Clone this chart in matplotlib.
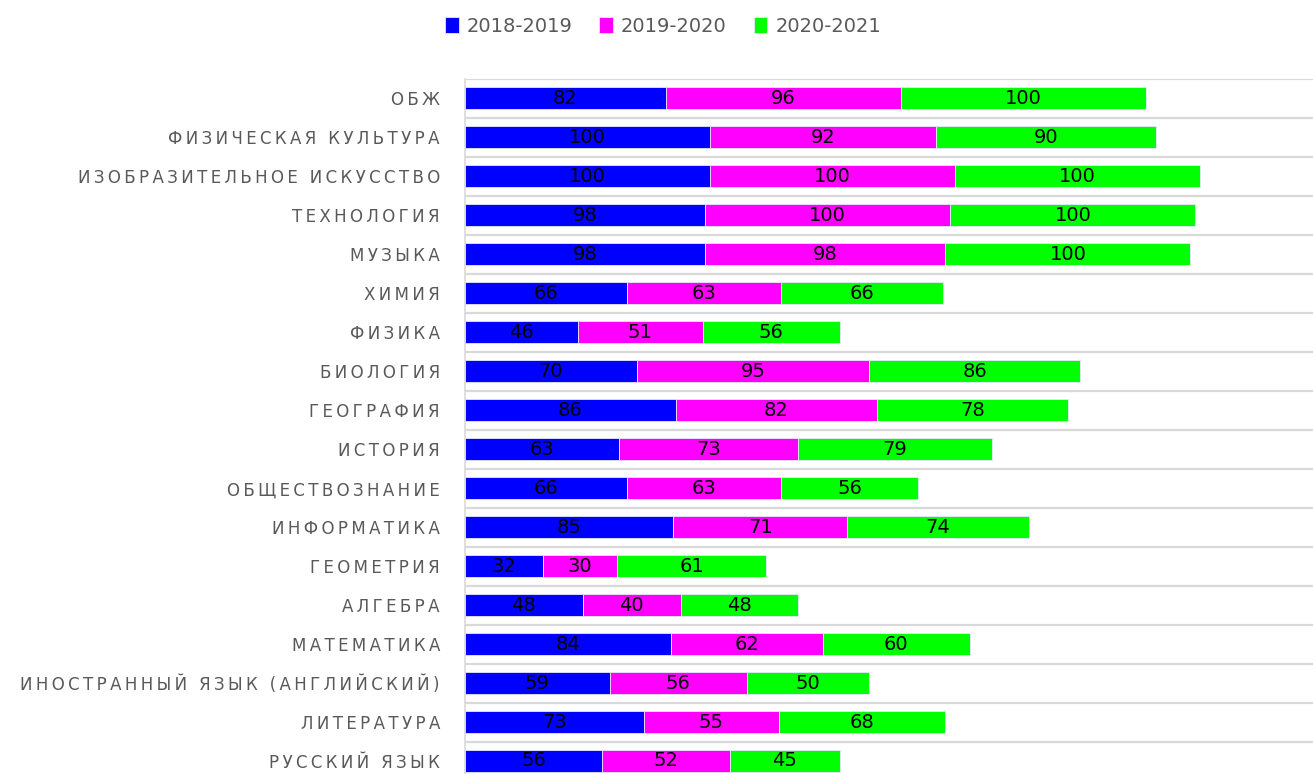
import numpy as np
import matplotlib
matplotlib.use("Agg")
import matplotlib.pyplot as plt

# subjects, top to bottom as in the chart
subjects = [
    "ОБЖ",
    "ФИЗИЧЕСКАЯ КУЛЬТУРА",
    "ИЗОБРАЗИТЕЛЬНОЕ ИСКУССТВО",
    "ТЕХНОЛОГИЯ",
    "МУЗЫКА",
    "ХИМИЯ",
    "ФИЗИКА",
    "БИОЛОГИЯ",
    "ГЕОГРАФИЯ",
    "ИСТОРИЯ",
    "ОБЩЕСТВОЗНАНИЕ",
    "ИНФОРМАТИКА",
    "ГЕОМЕТРИЯ",
    "АЛГЕБРА",
    "МАТЕМАТИКА",
    "ИНОСТРАННЫЙ ЯЗЫК (АНГЛИЙСКИЙ)",
    "ЛИТЕРАТУРА",
    "РУССКИЙ ЯЗЫК",
]
years = ["2018-2019", "2019-2020", "2020-2021"]
y2018 = [82, 100, 100, 98, 98, 66, 46, 70, 86, 63, 66, 85, 32, 48, 84, 59, 73, 56]
y2019 = [96, 92, 100, 100, 98, 63, 51, 95, 82, 73, 63, 71, 30, 40, 62, 56, 55, 52]
y2020 = [100, 90, 100, 100, 100, 66, 56, 86, 78, 79, 56, 74, 61, 48, 60, 50, 68, 45]
colors = ["#0000FF", "#FF00FF", "#00FF00"]


def spaced(s):
    # imitate Excel's letter spacing
    return "\u2009".join(s)


fig = plt.figure(figsize=(13.13, 7.74), dpi=100)
W, H = 1313, 774
ax = fig.add_axes([465 / W, 1 - 780.5 / H, (W - 465) / W, 702 / H])

pos = np.arange(len(subjects))
left = np.zeros(len(subjects))
for vals, col, lab in zip([y2018, y2019, y2020], colors, years):
    bars = ax.barh(pos, vals, left=left, height=0.56, color=col, label=lab,
                   edgecolor="#e6e6ff", linewidth=0.6, zorder=3)
    ax.bar_label(bars, labels=[str(v) for v in vals], label_type="center",
                 fontsize=14, color="black")
    left += np.array(vals)

ax.set_xlim(0, 346)
ax.set_ylim(len(subjects) - 0.5, -0.5)
ax.set_xticks([])
ax.set_yticks(pos)
ax.set_yticklabels([spaced(s) for s in subjects], fontsize=12, color="#595959")
ax.tick_params(axis="y", length=0, pad=18)
ax.set_yticks(np.arange(-0.5, len(subjects), 1), minor=True)
ax.tick_params(axis="y", which="minor", length=0)
ax.grid(axis="y", which="minor", color="#d9d9d9", linewidth=1.6, zorder=0)
ax.grid(axis="y", which="major", visible=False)
for side in ["top", "right", "bottom"]:
    ax.spines[side].set_visible(False)
ax.spines["left"].set_color("#d9d9d9")
ax.spines["left"].set_linewidth(1.2)

fig.legend(loc="center", bbox_to_anchor=(663 / W, 1 - 26 / H), ncol=3, frameon=False,
           fontsize=14, labelcolor="#595959", handlelength=0.7, handleheight=0.9,
           handletextpad=0.4, columnspacing=1.4)

fig.savefig("out.png", dpi=100)
